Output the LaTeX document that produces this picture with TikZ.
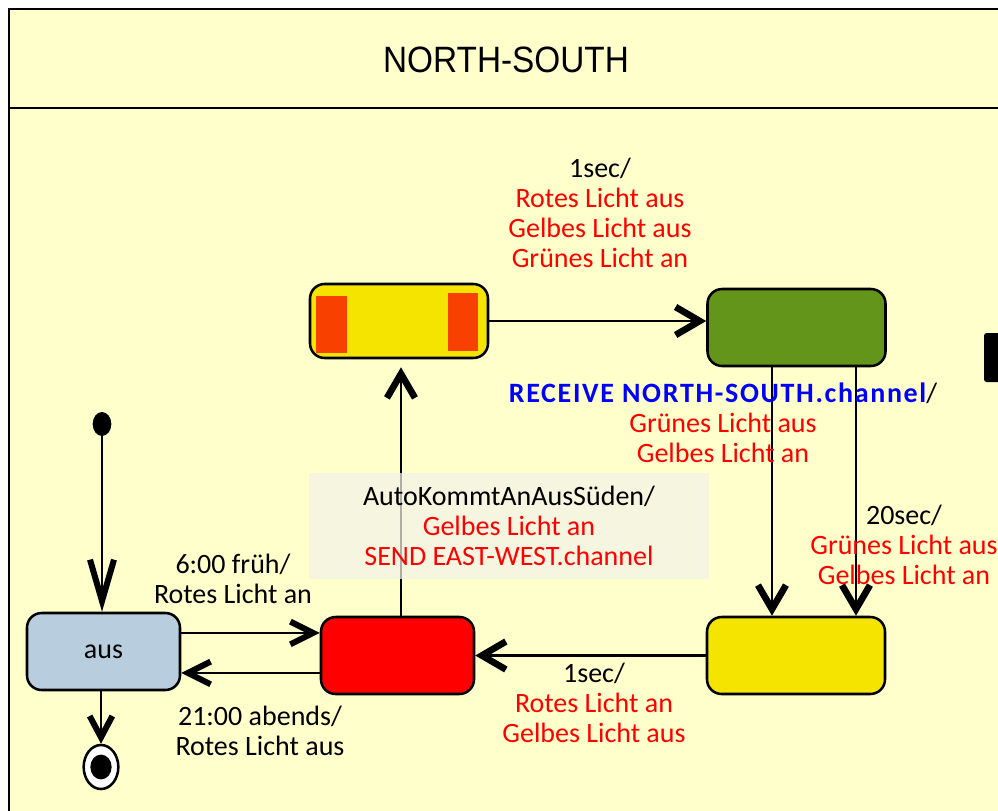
\documentclass[tikz,border=0pt]{standalone}
\usepackage{fontspec}
\setmainfont{Carlito}
\newfontfamily\titlefont{Liberation Sans}
\usetikzlibrary{positioning,arrows.meta,shapes.geometric}

\definecolor{bgyellow}{RGB}{255,255,204}
\definecolor{lampyellow}{RGB}{245,228,0}
\definecolor{lamporange}{RGB}{248,64,0}
\definecolor{lampgreen}{RGB}{98,149,26}
\definecolor{ausblue}{RGB}{184,206,222}
\definecolor{guardgray}{RGB}{242,242,232}

\tikzstyle{state}=[draw,rectangle,rounded corners=11pt,line width=1.9pt,minimum width=133.5pt,minimum height=57.75pt]
\tikzstyle{trans}=[line width=1.8pt,-{Straight Barb[length=18pt,width=21pt,line width=5pt]}]
\tikzstyle{lbl}=[align=center,inner sep=0pt,font=\fontsize{21}{22.5}\selectfont]

\begin{document}
\begin{tikzpicture}[x=0.75pt,y=-0.75pt]

\useasboundingbox (0,0) rectangle (998,810);
\clip (0,0) rectangle (998,810);

% frame and header
\draw [line width=2.2pt, fill=bgyellow] (9,9) rectangle (1030,840);
\draw [line width=2.2pt] (9,108) -- (1030,108);
\node [font=\titlefont\fontsize{25}{30}\selectfont, yscale=1.1] (title) at (506,60) {NORTH-SOUTH};
\fill [rounded corners=2pt] (984,333) rectangle (1030,382);

% states
\node [state, fill=lampyellow, minimum height=55.5pt] (ry) at (399,321) {};
\fill [lamporange] (316,296) rectangle (347,353);
\fill [lamporange] (448,293) rectangle (478,351);
\node [state, fill=lampgreen] (gr) at (796.5,327.5) {};
\node [state, fill=lampyellow] (ye) at (796,655.5) {};
\node [state, fill=red, minimum width=114.75pt] (rd) at (397.5,655.5) {};
\node [state, fill=ausblue, minimum width=114.75pt, font=\fontsize{21}{22.5}\selectfont] (aus) at (103.5,651.5) {aus};

% initial and final
\node [ellipse, fill=black, inner sep=0pt, minimum width=14pt, minimum height=18pt] (init) at (102,424) {};
\node [ellipse, draw, line width=1.9pt, fill=white, inner sep=0pt, minimum width=26pt, minimum height=33pt] (fin) at (101,767) {};
\fill (fin) ellipse (8pt and 9.3pt);

% transitions
\draw [line width=1.8pt, -{Straight Barb[length=31pt,width=18pt,line width=4.5pt]}] (init) -- (init |- aus.north);
\draw [trans, -{Straight Barb[length=16pt,width=17pt,line width=4.5pt]}] (fin |- aus.south) -- (fin.north);
\draw [trans, -{Straight Barb[length=17pt,width=17pt,line width=4.5pt]}] ([yshift=13.9pt]aus.east) -- ([yshift=13.9pt]aus.east -| rd.west);
\draw [trans, -{Straight Barb[length=17pt,width=17pt,line width=4.5pt]}] ([yshift=-13.1pt]rd.west) -- ([yshift=-13.1pt]rd.west -| aus.east);
\draw [trans, shorten >=6pt] ([xshift=2.6pt]rd.north) -- ([xshift=2.6pt]rd.north |- ry.south);
\draw [trans] (ry.east) -- (ry.east -| gr.west);
\draw [trans] ([xshift=-18.4pt]gr.south) -- ([xshift=-18.4pt]gr.south |- ye.north);
\draw [trans] ([xshift=44.6pt]gr.south) -- ([xshift=44.6pt]gr.south |- ye.north);
\draw [trans] (ye.west) -- (rd.east);

% guard box over the line
\node [lbl, fill=guardgray, fill opacity=0.72, text opacity=1, minimum width=300pt, minimum height=79.5pt] (guard) at (509,526)
  {AutoKommtAnAusSüden/\\\textcolor{red}{Gelbes Licht an}\\\textcolor{red}{SEND EAST-WEST.channel}};

% labels
\node [lbl] (lblgreen) at (600,213) {1sec/\\\textcolor{red}{Rotes Licht aus}\\\textcolor{red}{Gelbes Licht aus}\\\textcolor{red}{Grünes Licht an}};
\node [lbl] (lblreceive) at (723,423) {\textcolor{blue}{\bfseries\addfontfeature{LetterSpace=6}RECEIVE NORTH-SOUTH.channel}/\\\textcolor{red}{Grünes Licht aus}\\\textcolor{red}{Gelbes Licht an}};
\node [lbl] (lbltimer) at (904,545) {20sec/\\\textcolor{red}{Grünes Licht aus}\\\textcolor{red}{Gelbes Licht an}};
\node [lbl] (lblred) at (594,703) {1sec/\\\textcolor{red}{Rotes Licht an}\\\textcolor{red}{Gelbes Licht aus}};
\node [lbl] (lblon) at (233,579) {6:00 früh/\\Rotes Licht an};
\node [lbl] (lbloff) at (260,731) {21:00 abends/\\Rotes Licht aus};

\end{tikzpicture}
\end{document}
